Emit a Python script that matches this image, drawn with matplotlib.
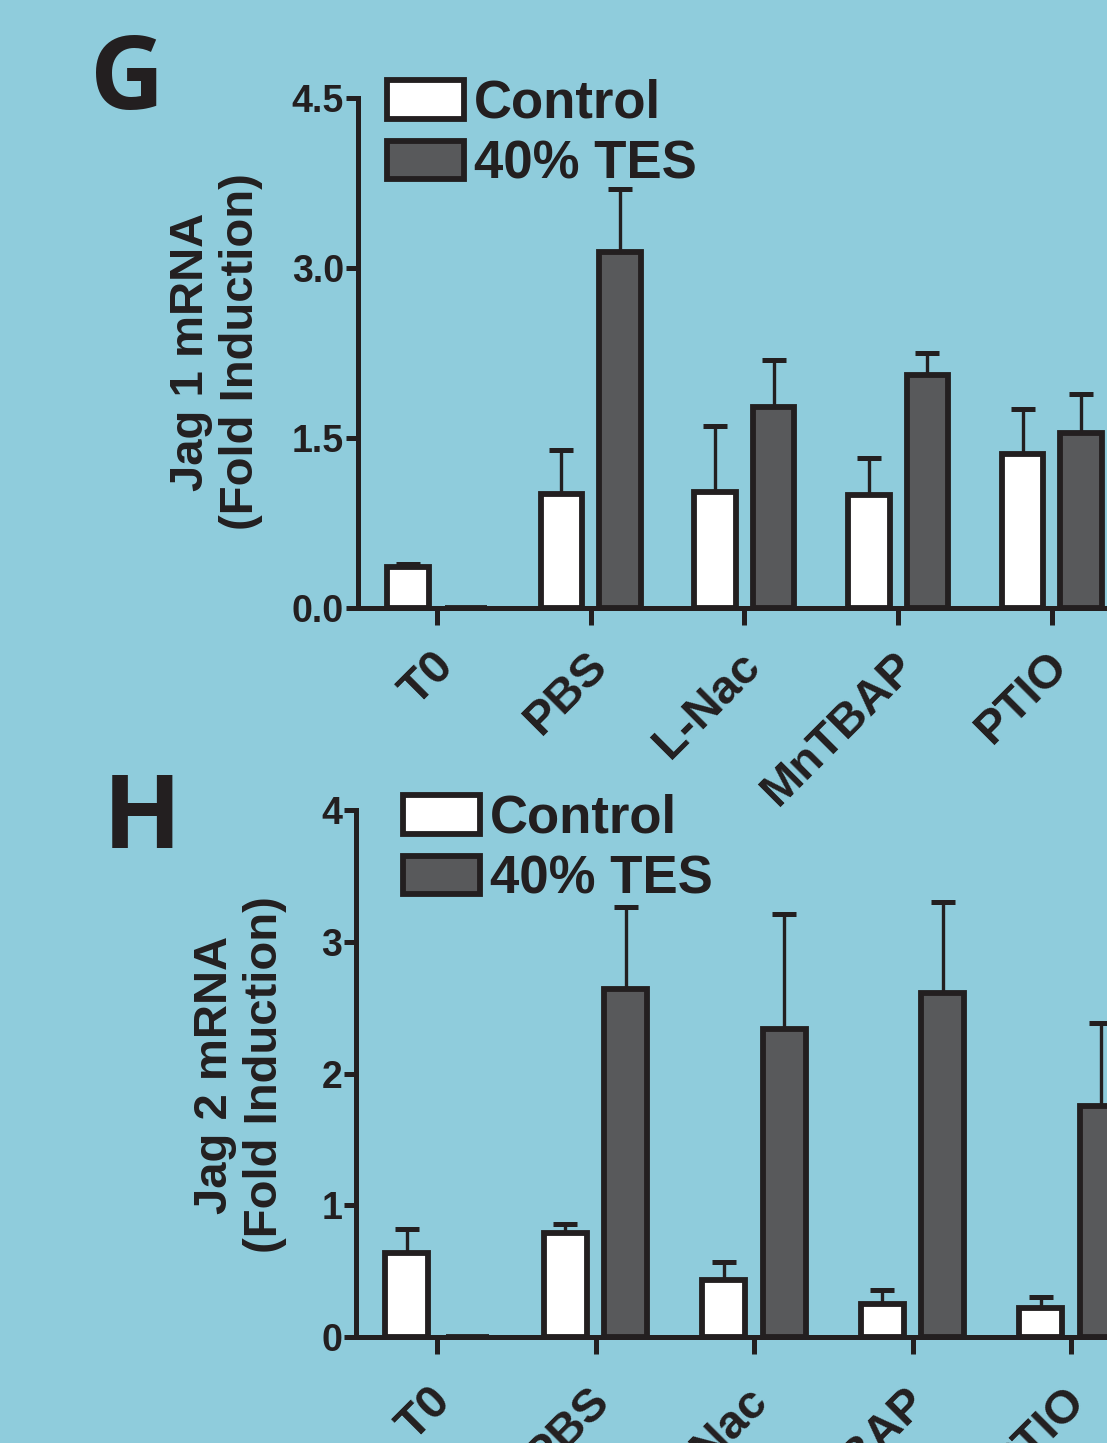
import numpy as np
import matplotlib
matplotlib.use('Agg')
import matplotlib.pyplot as plt
from matplotlib.transforms import ScaledTranslation

# 分组
groups = ['T0', 'PBS', 'L-Nac', 'MnTBAP', 'PTIO']

# 面板G: Jag 1
jag1_ctrl = [0.36, 1.01, 1.02, 1.00, 1.36]
jag1_ctrl_err = [0.03, 0.38, 0.59, 0.32, 0.40]
jag1_tes = [0.0, 3.14, 1.77, 2.06, 1.54]
jag1_tes_err = [0.0, 0.56, 0.42, 0.19, 0.35]

# 面板H: Jag 2
jag2_ctrl = [0.64, 0.79, 0.43, 0.25, 0.22]
jag2_ctrl_err = [0.18, 0.07, 0.14, 0.11, 0.08]
jag2_tes = [0.0, 2.64, 2.34, 2.61, 1.75]
jag2_tes_err = [0.0, 0.62, 0.87, 0.69, 0.63]

BG = '#8fccdc'
INK = '#231f20'
DARK = '#58595b'
NARROW = ['Liberation Sans Narrow', 'Liberation Sans', 'DejaVu Sans']
WIDE = ['Liberation Sans', 'DejaVu Sans']

W, H = 1107, 1443
fig = plt.figure(figsize=(W / 100, H / 100), dpi=100, facecolor=BG)


def px_axes(left, right, top, bottom):
    """像素坐标 -> figure坐标"""
    return [left / W, 1 - bottom / H, (right - left) / W, (bottom - top) / H]


def draw_panel(ax, ctrl, ctrl_err, tes, tes_err, ylim, yticks, ylabels, xlim, lab_off):
    ax.set_facecolor(BG)
    x = np.arange(len(groups))
    off, bw = 0.19, 0.27
    ctrl = np.array(ctrl); tes = np.array(tes)
    ctrl_err = np.array(ctrl_err); tes_err = np.array(tes_err)

    # 误差线只画上半部分
    for xs, vals, errs in [(x - off, ctrl, ctrl_err), (x + off, tes, tes_err)]:
        m = errs > 0
        ax.errorbar(xs[m], vals[m], yerr=[np.zeros(m.sum()), errs[m]], fmt='none',
                    ecolor=INK, elinewidth=2.4, capsize=8.5, capthick=3.6, zorder=1)

    ax.bar(x - off, ctrl, bw, color='white', edgecolor=INK, linewidth=4.2,
           label='Control', zorder=2)
    ax.bar(x + off, tes, bw, color=DARK, edgecolor=INK, linewidth=4.2,
           label='40% TES', zorder=2)

    ax.set_xlim(*xlim)
    ax.set_ylim(*ylim)
    ax.set_yticks(yticks)
    ax.set_yticklabels(ylabels, fontsize=27, fontweight='bold', family=NARROW, color=INK)
    ax.set_xticks(x)
    ax.tick_params(axis='x', labelbottom=False)

    # 斜45度的分组标签
    trans = ax.get_xaxis_transform() + ScaledTranslation(lab_off[0], -lab_off[1], fig.dpi_scale_trans)
    for xi, g in zip(x, groups):
        ax.text(xi, 0, g, transform=trans, fontsize=34, fontweight='bold',
                family=WIDE, color=INK, rotation=45, ha='right', va='center',
                rotation_mode='anchor', clip_on=False)

    for s in ['top', 'right']:
        ax.spines[s].set_visible(False)
    for s in ['left', 'bottom']:
        ax.spines[s].set_linewidth(3.6)
        ax.spines[s].set_color(INK)
        ax.spines[s].set_capstyle('projecting')
    ax.tick_params(axis='y', length=9, width=3.6, color=INK, pad=1)
    ax.tick_params(axis='x', length=12, width=3.6, color=INK)


# 面板G
axg = fig.add_axes(px_axes(358, 1180, 98, 608))
draw_panel(axg, jag1_ctrl, jag1_ctrl_err, jag1_tes, jag1_tes_err,
           (0, 4.5), [0, 1.5, 3.0, 4.5], ['0.0', '1.5', '3.0', '4.5'],
           ((358 - 437) / 153.7, (1180 - 437) / 153.7), (0.10, 0.51))

# 面板H
axh = fig.add_axes(px_axes(356, 1190, 810, 1337))
draw_panel(axh, jag2_ctrl, jag2_ctrl_err, jag2_tes, jag2_tes_err,
           (0, 4), [0, 1, 2, 3, 4], ['0', '1', '2', '3', '4'],
           ((356 - 437) / 158.5, (1190 - 437) / 158.5), (0.07, 0.57))

# 图例
for ax, (lx, ly) in [(axg, (387, 79)), (axh, (403, 794))]:
    leg = ax.legend(loc='upper left', bbox_to_anchor=(lx / W, 1 - ly / H),
                    bbox_transform=fig.transFigure, frameon=False,
                    prop={'family': NARROW, 'weight': 'bold', 'size': 38},
                    handlelength=1.45, handleheight=0.75, handletextpad=0.2,
                    labelspacing=0.2, borderpad=0, borderaxespad=0)
    for t in leg.get_texts():
        t.set_color(INK)

# 纵轴标题
fig.text(216 / W, 1 - 352 / H, 'Jag 1 mRNA\n(Fold Induction)', rotation=90,
         ha='center', va='center', multialignment='center', fontsize=34,
         fontweight='bold', family=WIDE, color=INK, linespacing=1.2)
fig.text(240 / W, 1 - 1075 / H, 'Jag 2 mRNA\n(Fold Induction)', rotation=90,
         ha='center', va='center', multialignment='center', fontsize=34,
         fontweight='bold', family=WIDE, color=INK, linespacing=1.2)

# 面板字母
fig.text(127 / W, 1 - 82 / H, 'G', ha='center', va='center', fontsize=74,
         fontweight='bold', family=['Open Sans', 'DejaVu Sans'], color=INK)
fig.text(142 / W, 1 - 822 / H, 'H', ha='center', va='center', fontsize=74,
         fontweight='bold', family=['Open Sans', 'DejaVu Sans'], color=INK)

fig.savefig('out.png', dpi=100, facecolor=BG)
